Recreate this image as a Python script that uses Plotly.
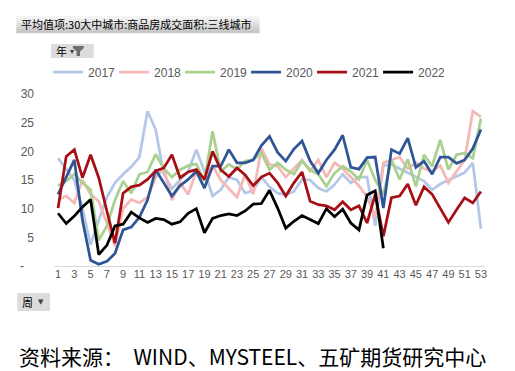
import plotly.graph_objects as go

weeks = list(range(1, 54))
week_ticks = list(range(1, 54, 2))

y2017 = [18.8, 16.8, 15.0, 10.0, 3.7, 8.0, 12.0, 14.5, 16.0, 17.3,
         19.0, 27.0, 23.8, 16.0, 13.5, 15.0, 16.5, 20.3, 16.5, 12.2,
         13.3, 15.5, 15.0, 12.7, 13.2, 15.5, 13.8, 12.7, 12.4, 13.0,
         15.1, 15.0, 13.6, 13.0, 14.2, 16.0, 14.5, 15.5, 15.5, 7.0,
         17.5, 17.7, 17.0, 16.2, 15.5, 14.8, 13.3, 14.3, 15.0, 15.7,
         16.3, 18.0, 6.5]
y2018 = [11.6, 12.2, 11.0, 15.0, 12.5, 11.3, 7.5, 3.5, 10.0, 11.6,
         11.0, 12.0, 15.5, 17.0, 11.5, 14.5, 12.5, 16.5, 15.0, 17.5,
         15.0, 13.5, 12.0, 16.0, 12.5, 20.5, 17.7, 17.4, 15.5, 17.0,
         18.5, 16.5, 18.5, 15.5, 18.0, 17.0, 15.5, 14.0, 12.0, 8.5,
         18.0, 18.5, 19.0, 17.0, 18.0, 17.0, 16.5, 17.5, 14.5, 16.5,
         18.5, 27.0, 26.0]
y2019 = [14.0, 14.8, 16.0, 14.5, 13.3, 4.5, 7.0, 11.5, 14.8, 12.7,
         16.0, 16.4, 19.5, 17.0, 15.5, 16.8, 17.5, 17.8, 14.8, 23.5,
         16.5, 17.7, 16.9, 18.3, 18.5, 19.7, 16.8, 18.0, 16.8, 16.0,
         18.3, 16.8, 16.0, 13.9, 16.2, 17.4, 16.5, 15.1, 18.5, 15.0,
         12.5, 18.5, 15.1, 18.6, 13.9, 19.4, 17.4, 22.0, 16.8, 19.4,
         19.7, 18.8, 25.7]
y2020 = [12.5, 15.5, 18.5, 8.0, 1.0, 0.3, 0.8, 2.2, 6.3, 6.8,
         8.5, 11.5, 16.8, 14.5, 12.2, 14.0, 15.1, 16.5, 13.6, 17.4,
         17.4, 20.3, 18.0, 18.0, 18.5, 21.0, 22.6, 19.8, 18.3, 20.4,
         21.8, 18.3, 16.2, 18.5, 20.3, 22.8, 17.2, 16.9, 18.9, 19.0,
         10.1, 20.3, 19.6, 22.3, 17.2, 18.3, 16.0, 19.0, 19.0, 17.9,
         18.5, 20.5, 23.8]
y2021 = [10.1, 19.1, 20.3, 15.4, 19.4, 15.4, 9.6, 4.0, 12.7, 13.8,
         14.1, 15.1, 16.6, 17.1, 19.4, 15.4, 16.4, 16.8, 15.1, 20.0,
         16.8, 15.6, 17.1, 15.9, 14.0, 15.5, 16.2, 14.5, 12.2, 14.5,
         16.4, 11.3, 10.7, 10.5, 9.8, 11.2, 9.8, 10.5, 7.5, 12.5,
         5.2, 11.9, 12.2, 14.3, 10.6, 13.8, 12.5, 10.0, 7.6, 9.8,
         11.9, 11.0, 13.0]
y2022 = [9.2, 7.4, 8.7, 10.3, 11.6, 2.0, 3.6, 7.0, 7.3, 9.4,
         8.4, 7.6, 8.3, 8.1, 7.3, 7.7, 9.2, 10.0, 5.8, 8.3,
         8.8, 9.1, 8.8, 9.6, 10.8, 10.9, 13.2, 10.1, 6.6, 7.8,
         8.8, 8.1, 7.4, 10.0, 8.6, 9.9, 7.5, 6.3, 12.4, 13.1,
         3.1]

series_names = ["2017", "2018", "2019", "2020", "2021", "2022"]
series_values = [y2017, y2018, y2019, y2020, y2021, y2022]
series_colors = ["#B4C7E7", "#F4B8B8", "#A9D18E", "#2F5597", "#A50F15", "#000000"]

y_ticks = [0, 5, 10, 15, 20, 25, 30]
y_ticktext = ["-\u00a0\u00a0\u00a0", "5", "10", "15", "20", "25", "30"]

fig = go.Figure()
for name, vals, col in zip(series_names, series_values, series_colors):
    fig.add_trace(go.Scatter(
        x=weeks[:len(vals)], y=vals, name=name, mode="lines",
        line=dict(color=col, width=2.75),
    ))

# pixel -> paper helpers (plot area: x 43..477, y 86..258)
L, R, T, B = 43, 477, 86, 258
def X(px):
    return (px - L) / (R - L)
def Y(py):
    return (B - py) / (B - T)

shapes = []
# title box with a vertical gradient
grays = ["#F4F4F4", "#EEEEEE", "#E8E8E8", "#E1E1E1", "#DADADA", "#D3D3D3", "#CCCCCC", "#C6C6C6"]
y0, y1 = 8, 25
n = len(grays)
for i, g in enumerate(grays):
    a = y0 + (y1 - y0) * i / n
    b = y0 + (y1 - y0) * (i + 1) / n
    shapes.append(dict(type="rect", xref="paper", yref="paper",
                       x0=X(5), x1=X(250), y0=Y(a), y1=Y(b + 0.3),
                       fillcolor=g, line=dict(width=0), layer="above"))
# "年" button
shapes.append(dict(type="rect", xref="paper", yref="paper",
                   x0=X(40), x1=X(83), y0=Y(36), y1=Y(50),
                   fillcolor="#DCDCDC", line=dict(width=0)))
# funnel icon
fx = [62, 73, 73, 69.2, 69.2, 65.8, 65.8, 62]
fy = [38, 38, 40, 43.5, 48, 48, 43.5, 40]
path = "M " + " L ".join(f"{X(a):.5f},{Y(b):.5f}" for a, b in zip(fx, fy)) + " Z"
shapes.append(dict(type="path", xref="paper", yref="paper", path=path,
                   fillcolor="#6E6E6E", line=dict(width=0)))
# "周" button
shapes.append(dict(type="rect", xref="paper", yref="paper",
                   x0=X(6), x1=X(39), y0=Y(285), y1=Y(303),
                   fillcolor="#DCDCDC", line=dict(width=0)))

annotations = [
    dict(text="平均值项:30大中城市:商品房成交面积:三线城市", xref="paper", yref="paper",
         x=X(8), y=Y(16.5), xanchor="left", yanchor="middle", showarrow=False,
         font=dict(family="Noto Sans CJK SC", size=11, color="#000000")),
    dict(text="年", xref="paper", yref="paper",
         x=X(43), y=Y(43), xanchor="left", yanchor="middle", showarrow=False,
         font=dict(family="Noto Sans CJK SC", size=11, color="#000000")),
    dict(text="▾", xref="paper", yref="paper",
         x=X(61), y=Y(43.5), xanchor="center", yanchor="middle", showarrow=False,
         font=dict(family="DejaVu Sans", size=8, color="#404040")),
    dict(text="周", xref="paper", yref="paper",
         x=X(9), y=Y(294), xanchor="left", yanchor="middle", showarrow=False,
         font=dict(family="Noto Sans CJK SC", size=11, color="#000000")),
    dict(text="▼", xref="paper", yref="paper",
         x=X(30), y=Y(294), xanchor="center", yanchor="middle", showarrow=False,
         font=dict(family="DejaVu Sans", size=7, color="#404040")),
    dict(text="资料来源：  WIND、MYSTEEL、五矿期货研究中心", xref="paper", yref="paper",
         x=X(6), y=Y(348), xanchor="left", yanchor="middle", showarrow=False,
         font=dict(family="Noto Sans CJK SC", size=21, color="#000000")),
]

fig.update_layout(
    width=515, height=371,
    margin=dict(l=L, r=515 - R, t=T, b=371 - B),
    paper_bgcolor="#FFFFFF", plot_bgcolor="#FFFFFF",
    font=dict(family="Liberation Sans", size=11, color="#595959"),
    showlegend=True,
    legend=dict(orientation="h", x=X(37), y=Y(64), xanchor="left", yanchor="middle",
                font=dict(family="Liberation Sans", size=12, color="#595959"),
                entrywidth=21, entrywidthmode="pixels", itemwidth=30,
                tracegroupgap=0, bgcolor="rgba(0,0,0,0)"),
    xaxis=dict(range=[0.5, 53.5], tickmode="array", tickvals=week_ticks,
               ticktext=[str(w) for w in week_ticks], showgrid=False, zeroline=False,
               showline=True, linecolor="#D9D9D9", linewidth=1, ticks="",
               ticklabelstandoff=-2,
               tickfont=dict(size=11, color="#595959"), fixedrange=True),
    yaxis=dict(range=[0, 30], tickmode="array", tickvals=y_ticks, ticktext=y_ticktext,
               showgrid=False, zeroline=False, showline=False, ticks="",
               ticklabelstandoff=19,
               tickfont=dict(size=12, color="#595959"), fixedrange=True),
    shapes=shapes,
    annotations=annotations,
)

fig.write_html("out.html")
